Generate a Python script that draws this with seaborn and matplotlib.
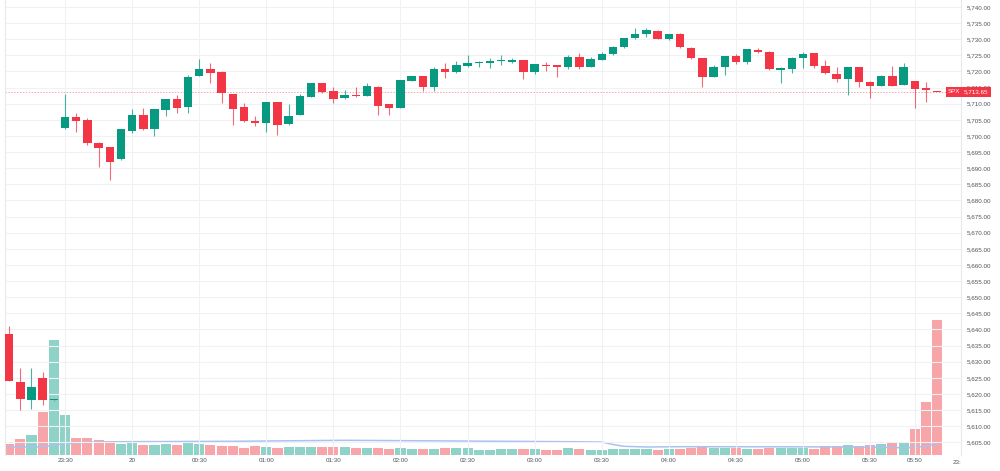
import numpy as np
import pandas as pd
import matplotlib
matplotlib.use("Agg")
import matplotlib.pyplot as plt
import matplotlib.transforms as mtransforms
import seaborn as sns

# 5-minute SPX candles, 23:05 -> 06:00 (84 bars)
opens = [5638.5, 5623.6, 5618.1, 5624.9, 5618.0, 5702.4, 5706.0, 5704.9, 5697.7, 5696.5,
         5692.85, 5701.5, 5706.4, 5702.05, 5708.05, 5711.5, 5708.9, 5718.6, 5720.9, 5719.9,
         5712.9, 5709.1, 5704.7, 5704.1, 5710.4, 5703.6, 5706.5, 5712.2, 5716.3, 5713.9,
         5711.7, 5712.7, 5712.5, 5715.3, 5709.8, 5708.8, 5717.1, 5718.6, 5715.3, 5720.7,
         5719.9, 5721.8, 5722.6, 5722.6, 5723.2, 5722.9, 5723.55, 5719.9, 5721.9, 5721.9,
         5721.3, 5724.4, 5721.5, 5723.55, 5725.3, 5727.5, 5730.3, 5731.6, 5732.6, 5730.1,
         5731.6, 5727.4, 5724.1, 5718.4, 5721.3, 5724.8, 5723.0, 5726.75, 5726.1, 5720.45,
         5720.8, 5724.3, 5725.6, 5721.7, 5719.2, 5717.55, 5721.3, 5716.8, 5715.5, 5718.6,
         5715.8, 5717.0, 5714.75, 5713.7]
highs = [5641.1, 5627.9, 5628.15, 5626.7, 5618.2, 5713.0, 5707.1, 5705.7, 5698.2, 5696.6,
         5702.2, 5708.4, 5708.8, 5708.4, 5711.6, 5712.7, 5718.9, 5723.9, 5722.7, 5720.0,
         5713.0, 5710.1, 5706.2, 5710.5, 5710.5, 5709.9, 5712.9, 5716.4, 5716.4, 5715.3,
         5714.25, 5715.1, 5716.3, 5715.4, 5709.9, 5717.4, 5718.7, 5718.7, 5721.3, 5722.5,
         5723.2, 5725.1, 5723.2, 5724.1, 5725.1, 5724.1, 5723.6, 5722.3, 5723.0, 5721.95,
         5725.1, 5725.6, 5724.4, 5726.1, 5727.8, 5730.4, 5733.4, 5733.5, 5733.0, 5731.7,
         5731.8, 5727.5, 5724.2, 5722.0, 5724.9, 5725.3, 5727.0, 5727.2, 5726.2, 5721.3,
         5724.4, 5725.9, 5725.7, 5723.55, 5721.5, 5721.4, 5721.4, 5716.9, 5718.8, 5721.7,
         5722.5, 5717.1, 5716.8, 5713.75]
lows = [5624.0, 5615.0, 5615.2, 5616.5, 5617.9, 5702.2, 5701.2, 5697.2, 5690.5, 5686.3,
        5692.7, 5701.0, 5702.0, 5700.0, 5706.2, 5707.0, 5707.0, 5718.5, 5716.5, 5710.1,
        5703.4, 5704.2, 5703.1, 5701.3, 5700.3, 5703.5, 5706.4, 5712.1, 5713.2, 5710.1,
        5711.5, 5712.2, 5712.4, 5706.5, 5706.5, 5708.7, 5717.0, 5714.0, 5714.0, 5717.9,
        5719.4, 5721.5, 5721.3, 5721.2, 5722.0, 5722.5, 5717.65, 5719.1, 5720.2, 5718.4,
        5720.8, 5720.8, 5721.4, 5723.5, 5725.2, 5727.4, 5730.2, 5730.6, 5730.0, 5729.9,
        5727.4, 5724.0, 5715.1, 5718.3, 5718.9, 5722.2, 5722.4, 5725.6, 5720.6, 5716.3,
        5719.4, 5721.0, 5721.0, 5719.3, 5716.8, 5712.7, 5715.1, 5711.9, 5715.4, 5715.5,
        5715.7, 5708.8, 5710.4, 5713.6]
closes = [5624.1, 5618.3, 5622.15, 5618.0, 5618.1, 5706.0, 5704.6, 5697.7, 5696.2, 5691.8,
          5702.05, 5706.5, 5702.05, 5708.25, 5711.5, 5708.6, 5718.4, 5720.7, 5719.6, 5713.2,
          5708.4, 5704.7, 5704.1, 5710.4, 5703.4, 5706.3, 5712.3, 5716.3, 5713.7, 5711.35,
          5712.7, 5712.3, 5715.5, 5709.4, 5708.6, 5717.35, 5718.6, 5715.3, 5720.8, 5719.9,
          5722.0, 5722.5, 5722.9, 5723.2, 5723.5, 5723.65, 5719.9, 5722.2, 5721.6, 5721.5,
          5724.4, 5721.5, 5723.75, 5725.3, 5727.7, 5730.3, 5731.5, 5732.85, 5730.1, 5731.6,
          5727.5, 5724.1, 5718.2, 5721.3, 5724.8, 5723.0, 5726.9, 5726.1, 5720.65, 5721.2,
          5724.3, 5725.4, 5721.7, 5719.4, 5717.55, 5721.3, 5716.8, 5715.5, 5718.7, 5715.6,
          5721.3, 5714.55, 5714.15, 5713.65]
volumes = [1130, 1630, 2030, 4330, 11470, 4000, 1670, 1670, 1500, 1370,
           1130, 1200, 1030, 1030, 1100, 1000, 1200, 1070, 970, 900,
           870, 730, 900, 830, 730, 830, 770, 830, 830, 830,
           800, 700, 670, 730, 600, 730, 600, 600, 600, 670,
           670, 670, 530, 530, 600, 600, 600, 600, 530, 530,
           670, 600, 530, 530, 600, 600, 600, 600, 470, 600,
           600, 730, 870, 700, 700, 670, 600, 600, 700, 700,
           670, 700, 630, 870, 870, 970, 870, 1000, 1100, 1170,
           1330, 2570, 5330, 13500]
# volume moving average, read at a few bars
vol_ma_bar = [0, 3, 4, 5, 7, 10, 20, 30, 40, 50, 53, 54, 55, 57, 60, 70, 78, 80, 81, 82, 83]
vol_ma = [800, 820, 970, 1130, 1270, 1330, 1370, 1470, 1400, 1330, 1300, 1050, 870, 800,
          830, 820, 780, 720, 760, 900, 1130]

time_tick_bar = [5, 11, 17, 23, 29, 35, 41, 47, 53, 59, 65, 71, 77, 81]
time_tick_labels = ["23:30", "20", "00:30", "01:00", "01:30", "02:00", "02:30", "03:00",
                    "03:30", "04:00", "04:30", "05:00", "05:30", "05:50"]
price_ticks = list(range(5605, 5745, 5))
symbol = "SPX"

UP, DOWN = "#089981", "#f23645"
UP_VOL, DOWN_VOL = "#8fd3c8", "#f7a5a8"

df = pd.DataFrame({"o": opens, "h": highs, "l": lows, "c": closes, "vol": volumes})
df["bar"] = np.arange(len(df))
df["dir"] = np.where(df["c"] >= df["o"], "up", "down")

sns.set_style("white")
plt.rcParams["font.family"] = ["Liberation Sans", "DejaVu Sans"]

fig = plt.figure(figsize=(10, 4.71), dpi=100)
ax = fig.add_axes([0.005, 16 / 471, 0.956, 455 / 471])
ax_vol = ax.twinx()
ax.set_zorder(ax_vol.get_zorder() + 1)
ax.patch.set_visible(False)
ax_vol.patch.set_facecolor("white")

# volume pane
sns.barplot(data=df, x="bar", y="vol", hue="dir", palette={"up": UP_VOL, "down": DOWN_VOL},
            native_scale=True, dodge=False, width=0.9, saturation=1, errorbar=None,
            legend=False, linewidth=0, ax=ax_vol)
sns.lineplot(x=vol_ma_bar, y=vol_ma, color="#a9c2f2", lw=1.1, ax=ax_vol)
ax_vol.set_ylim(0, 45500)
ax_vol.set_yticks([])
ax_vol.set_ylabel("")
ax_vol.set_xlabel("")
for s in ax_vol.spines.values():
    s.set_visible(False)

# candles
body_col = [UP if d == "up" else DOWN for d in df["dir"]]
ax.vlines(df["bar"], df["l"], df["h"], colors=body_col, lw=0.8, alpha=0.75, zorder=2)
bottoms = np.minimum(df["o"], df["c"])
heights = np.maximum((df["c"] - df["o"]).abs(), 0.3)
ax.bar(df["bar"], heights, bottom=bottoms, width=0.75, color=body_col, linewidth=0, zorder=3)

last = closes[-1]
ax.axhline(last, color=DOWN, lw=0.7, ls=(0, (1.5, 1.5)), alpha=0.45, zorder=1)

ax.set_xlim(-0.37, 85.13)
ax.set_ylim(5601.07, 5742.16)
ax.yaxis.tick_right()
ax.set_yticks(price_ticks)
ax.set_yticklabels([f"{v:,.2f}" for v in price_ticks])
ax.set_xticks(time_tick_bar)
ax.set_xticklabels(time_tick_labels)
ax.tick_params(axis="y", length=0, pad=4, labelsize=4.5, labelcolor="#50535e")
ax.tick_params(axis="x", length=0, pad=2.5, labelsize=4.5, labelcolor="#50535e")
ax.grid(True, color="#f0f1f4", lw=0.8)
ax.set_axisbelow(True)
for k, s in ax.spines.items():
    s.set_visible(k in ("left", "right"))
    s.set_color("#e8e9ec")
    s.set_linewidth(0.8)

# cut-off next label at the right edge
ax.text(84.8, -0.012, "23:", transform=ax.get_xaxis_transform(), ha="center", va="top",
        fontsize=4.5, color="#50535e")

# last price tags
tr = mtransforms.blended_transform_factory(ax.transAxes, ax.transData)
ax.text(0.9995, last, symbol, transform=tr, ha="right", va="center", fontsize=4.5,
        color="white", clip_on=False, zorder=10,
        bbox=dict(boxstyle="square,pad=0.35", fc=DOWN, ec="none"))
ax.text(1.003, last, f"{last:,.2f}", transform=tr, ha="left", va="center", fontsize=4.5,
        color="white", clip_on=False, zorder=10,
        bbox=dict(boxstyle="square,pad=0.35", fc=DOWN, ec="none"))

fig.savefig("out.png", dpi=100, facecolor="white")
